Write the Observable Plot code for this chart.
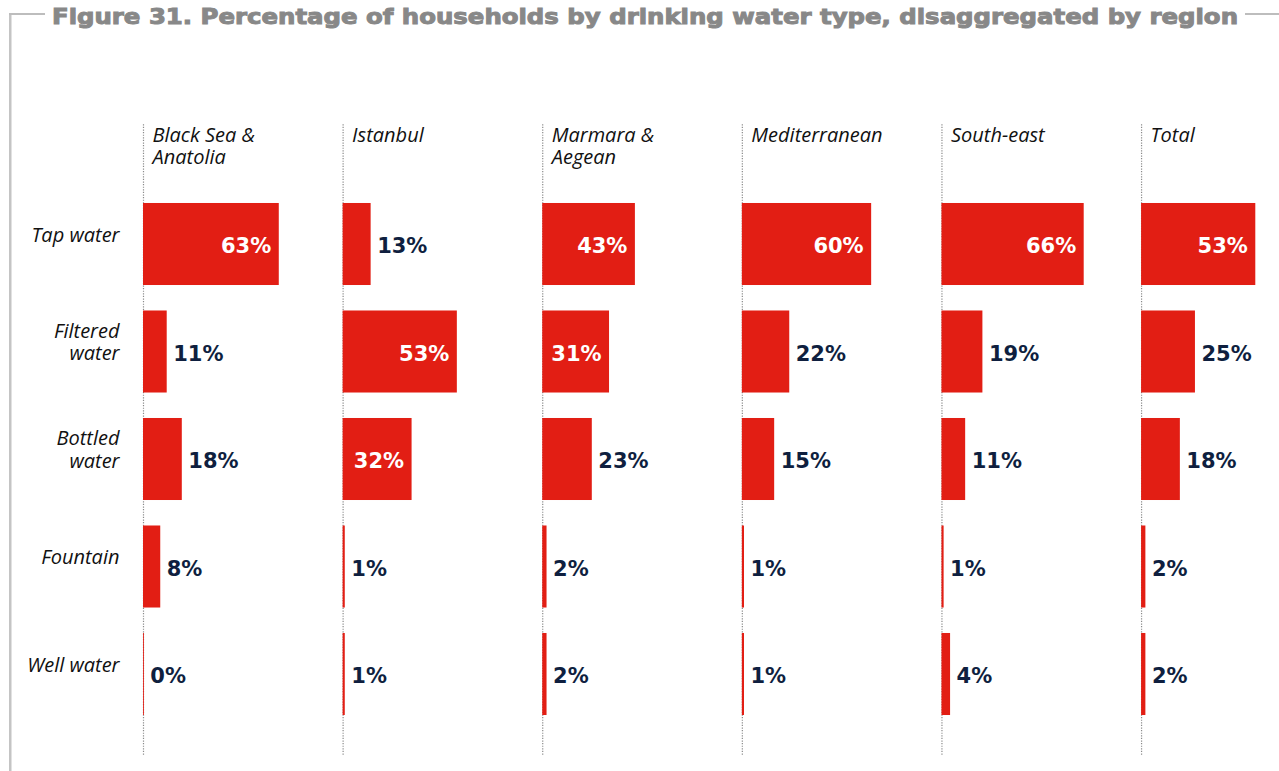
<!DOCTYPE html>
<html>
<head>
<meta charset="utf-8">
<script src="https://cdn.jsdelivr.net/npm/d3@7"></script>
<script src="https://cdn.jsdelivr.net/npm/@observablehq/plot@0.6"></script>
<style>
  html, body { margin: 0; padding: 0; background: #fff; }
  #wrap { position: relative; width: 1279px; height: 771px; overflow: hidden; background: #fff; }
  #wrap svg { position: absolute; left: 0; top: 0; }
  #deco { pointer-events: none; }
</style>
</head>
<body>
<div id="wrap"></div>
<script>
// ---- data ----
const titleText = "Figure 31. Percentage of households by drinking water type, disaggregated by region";
const regions = ["Black Sea & Anatolia", "Istanbul", "Marmara & Aegean", "Mediterranean", "South-east", "Total"];
const regionLabels = ["Black Sea &\nAnatolia", "Istanbul", "Marmara &\nAegean", "Mediterranean", "South-east", "Total"];
const types = ["Tap water", "Filtered water", "Bottled water", "Fountain", "Well water"];
const typeLabels = ["Tap water", "Filtered\nwater", "Bottled\nwater", "Fountain", "Well water"];
const tapWater      = [63, 13, 43, 60, 66, 53];
const filteredWater = [11, 53, 31, 22, 19, 25];
const bottledWater  = [18, 32, 23, 15, 11, 18];
const fountain      = [8, 1, 2, 1, 1, 2];
const wellWater     = [0.4, 1, 2, 1, 4, 2];

const series = [tapWater, filteredWater, bottledWater, fountain, wellWater];
const rows = [];
types.forEach((t, i) => regions.forEach((r, j) => rows.push({region: r, type: t, value: series[i][j]})));

const red = "#e21e14";
const navy = "#0f1f3f";
const fmt = v => Math.round(v) + "%";

const chart = Plot.plot({
  width: 1279,
  height: 771,
  marginLeft: 143,
  marginRight: 0,
  marginTop: 190.25,
  marginBottom: 43.25,
  style: {background: "transparent"},
  fx: {axis: null, domain: regions, paddingInner: 0.309, paddingOuter: 0, round: false},
  x: {axis: null, domain: [0, 64]},
  y: {axis: null, domain: types, paddingInner: 0.237, paddingOuter: 0.1185, round: false},
  marks: [
    Plot.ruleX(regions, {fx: d => d, x: 0, stroke: "#8a8a8a", strokeWidth: 1.2, strokeDasharray: "1.2,1.4", insetTop: -66, insetBottom: -27}),
    Plot.barX(rows, {fx: "region", y: "type", x: "value", fill: red}),
    Plot.text(rows.filter(d => d.value >= 30), {
      fx: "region", y: "type", x: "value", text: d => fmt(d.value),
      textAnchor: "end", dx: -8, dy: 2, fill: "#fff",
      fontFamily: "DejaVu Sans", fontWeight: "bold", fontSize: 21
    }),
    Plot.text(rows.filter(d => d.value < 30), {
      fx: "region", y: "type", x: "value", text: d => fmt(d.value),
      textAnchor: "start", dx: 6, dy: 2, fill: navy,
      fontFamily: "DejaVu Sans", fontWeight: "bold", fontSize: 21
    }),
    Plot.text(regions, {
      fx: d => d, text: (d, i) => regionLabels[i],
      frameAnchor: "top-left", textAnchor: "start", lineAnchor: "top",
      dx: 9, dy: -65, lineHeight: 1.12,
      fontFamily: "Open Sans", fontStyle: "italic", fontSize: 20, fill: "#111"
    }),
    Plot.text(types, {
      fx: () => regions[0], y: d => d, text: (d, i) => typeLabels[i],
      frameAnchor: "left", textAnchor: "end", lineAnchor: "middle",
      dx: -24, dy: -10, lineHeight: 1.12,
      fontFamily: "Open Sans", fontStyle: "italic", fontSize: 20, fill: "#111"
    })
  ]
});
document.getElementById("wrap").appendChild(chart);

// ---- frame and title ----
const ns = "http://www.w3.org/2000/svg";
const deco = document.createElementNS(ns, "svg");
deco.setAttribute("id", "deco");
deco.setAttribute("width", 1279);
deco.setAttribute("height", 771);
deco.innerHTML = `
  <rect x="9" y="13" width="2.5" height="758" fill="#c4c4c4"></rect>
  <rect x="9" y="13" width="36" height="2" fill="#bdbdbd"></rect>
  <rect x="1245" y="13" width="34" height="2" fill="#bdbdbd"></rect>
  <text x="52" y="24" textLength="1186" lengthAdjust="spacingAndGlyphs"
    font-family="DejaVu Sans" font-weight="bold" font-size="21.5"
    fill="#888888" stroke="#888888" stroke-width="1"></text>`;
deco.querySelector("text").textContent = titleText;
document.getElementById("wrap").appendChild(deco);
</script>
</body>
</html>
